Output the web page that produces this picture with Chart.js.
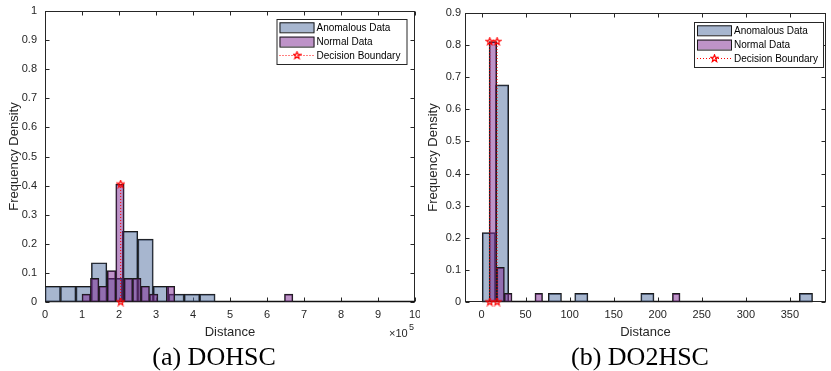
<!DOCTYPE html>
<html>
<head>
<meta charset="utf-8">
<script src="https://cdn.jsdelivr.net/npm/chart.js@4.4.0/dist/chart.umd.min.js"></script>
<style>
  html, body { margin: 0; padding: 0; background: #fff; }
  #wrap { position: relative; width: 831px; height: 371px; overflow: hidden; }
  .pane { position: absolute; top: 0; height: 371px; }
  #paneA { left: 0; width: 420px; }
  #paneB { left: 420px; width: 411px; }
  .cap { position: absolute; top: 344px; width: 200px; text-align: center;
         font: 26px "Liberation Serif", "Times New Roman", serif; line-height: 26px; color: #000; white-space: nowrap; }
</style>
</head>
<body>
<div id="wrap">
  <div class="pane" id="paneA"><canvas id="chartA" width="420" height="371"></canvas></div>
  <div class="pane" id="paneB"><canvas id="chartB" width="411" height="371"></canvas></div>
  <div class="cap" style="left:114px">(a) DOHSC</div>
  <div class="cap" style="left:540px">(b) DO2HSC</div>
</div>
<script>
// (a) DOHSC - distance in units of 1e5, bin centres + probability per bin
var anomBinsA = [0.209, 0.627, 1.045, 1.463, 1.881, 2.299, 2.717, 3.135, 3.553, 3.971, 4.389];
var anomDensA = [0.054, 0.054, 0.054, 0.135, 0.081, 0.243, 0.216, 0.054, 0.027, 0.027, 0.027];
var normBinsA = [1.114, 1.342, 1.570, 1.798, 2.026, 2.254, 2.482, 2.710, 2.938, 3.394, 6.586];
var normDensA = [0.027, 0.081, 0.054, 0.108, 0.405, 0.081, 0.081, 0.054, 0.027, 0.054, 0.027];
var boundA = [2.045];
var boundTopA = 0.405;
var xTicksA = [0, 1, 2, 3, 4, 5, 6, 7, 8, 9, 10];
var yTicksA = [0, 0.1, 0.2, 0.3, 0.4, 0.5, 0.6, 0.7, 0.8, 0.9, 1];

// (b) DO2HSC
var anomBinsB = [8.25, 23.25, 83.25, 113.25, 188.25, 368.25];
var anomDensB = [0.216, 0.676, 0.027, 0.027, 0.027, 0.027];
var normBinsB = [12.9, 21.57, 30.24, 64.92, 220.98];
var normDensB = [0.811, 0.108, 0.027, 0.027, 0.027];
var boundB = [9.3, 17.6];
var boundTopB = 0.811;
var xTicksB = [0, 50, 100, 150, 200, 250, 300, 350];
var yTicksB = [0, 0.1, 0.2, 0.3, 0.4, 0.5, 0.6, 0.7, 0.8, 0.9];

var legendLabels = ["Anomalous Data", "Normal Data", "Decision Boundary"];

var anomColor = "rgba(80,110,160,0.5)";
var normColor = "rgba(125,40,145,0.5)";
var edgeColor = "#1a1a1a";
var axisColor = "#262626";

Chart.defaults.font.family = "'Liberation Sans', Arial, sans-serif";
Chart.defaults.color = axisColor;

function starMarker(size, color) {
  var c = document.createElement("canvas");
  c.width = size; c.height = size;
  var g = c.getContext("2d");
  var r = size / 2 - 0.8, ri = r * 0.42, cx = size / 2, cy = size / 2;
  g.beginPath();
  for (var i = 0; i < 10; i++) {
    var rad = i % 2 ? ri : r;
    var a = -Math.PI / 2 + i * Math.PI / 5;
    g.lineTo(cx + rad * Math.cos(a), cy + rad * Math.sin(a));
  }
  g.closePath();
  g.strokeStyle = color;
  g.lineWidth = 1.2;
  g.stroke();
  return c;
}
var star = starMarker(9, "#ff0000");

function pts(xs, ys) {
  return xs.map(function (x, i) { return {x: x, y: ys[i]}; });
}

// MATLAB-like box, inward ticks, legend
var frame = {
  id: "frame",
  beforeDatasetsDraw: function (chart, args, o) {
    var ctx = chart.ctx, a = chart.chartArea;
    var xs = chart.scales.x, ys = chart.scales.y;
    ctx.save();
    ctx.strokeStyle = axisColor;
    ctx.lineWidth = 1;
    var L = Math.round(a.left) + 0.5, R = Math.round(a.right) - 0.5;
    var T = Math.round(a.top) + 0.5, B = Math.round(a.bottom) - 0.5;
    ctx.strokeRect(L, T, R - L, B - T);
    ctx.beginPath();
    xs.ticks.forEach(function (t) {
      var px = Math.round(xs.getPixelForValue(t.value)) + 0.5;
      ctx.moveTo(px, B); ctx.lineTo(px, B - 4);
      ctx.moveTo(px, T); ctx.lineTo(px, T + 4);
    });
    ys.ticks.forEach(function (t) {
      var py = Math.round(ys.getPixelForValue(t.value)) + 0.5;
      ctx.moveTo(L, py); ctx.lineTo(L + 4, py);
      ctx.moveTo(R, py); ctx.lineTo(R - 4, py);
    });
    ctx.stroke();
    // dark baseline where the empty bins run
    ctx.strokeStyle = "#111";
    ctx.lineWidth = 1.5;
    ctx.beginPath();
    ctx.moveTo(xs.getPixelForValue(o.baseFrom), B);
    ctx.lineTo(xs.getPixelForValue(o.baseTo), B);
    ctx.stroke();
    ctx.restore();
  },
  afterDatasetsDraw: function (chart, args, o) {
    var ctx = chart.ctx, g = o.legend;
    ctx.save();
    ctx.fillStyle = "#fff";
    ctx.fillRect(g.x, g.y, g.w, g.h);
    ctx.strokeStyle = axisColor;
    ctx.lineWidth = 1;
    ctx.strokeRect(g.x + 0.5, g.y + 0.5, g.w, g.h);
    ctx.font = "10px 'Liberation Sans', Arial, sans-serif";
    ctx.textBaseline = "middle";
    ctx.textAlign = "left";
    var sx = g.x + 3, sw = 35, tx = g.x + 40;
    [anomColor, normColor].forEach(function (col, i) {
      var cy = g.y + 8.3 + i * 14.3;
      ctx.fillStyle = col;
      ctx.fillRect(sx, cy - 5, sw, 10);
      ctx.strokeStyle = edgeColor;
      ctx.strokeRect(sx + 0.5, cy - 5 + 0.5, sw - 1, 10);
      ctx.fillStyle = "#000";
      ctx.fillText(legendLabels[i], tx, cy + 1);
    });
    var ly = g.y + 36;
    ctx.strokeStyle = "#ff0000";
    ctx.setLineDash([1, 2]);
    ctx.beginPath();
    ctx.moveTo(sx, ly + 0.5); ctx.lineTo(sx + sw, ly + 0.5);
    ctx.stroke();
    ctx.setLineDash([]);
    ctx.drawImage(star, sx + sw / 2 - 4.5, ly - 4);
    ctx.fillStyle = "#000";
    ctx.fillText(legendLabels[2], tx, ly + 1.5);
    if (o.exponent) {
      ctx.fillStyle = axisColor;
      ctx.font = "11px 'Liberation Sans', Arial, sans-serif";
      ctx.fillText("\u00d710", o.exponent.x, o.exponent.y);
      ctx.font = "9px 'Liberation Sans', Arial, sans-serif";
      ctx.fillText("5", o.exponent.x + 20, o.exponent.y - 6);
    }
    ctx.restore();
  }
};

function noPad(sc) {
  sc.paddingLeft = 0; sc.paddingRight = 0; sc.paddingTop = 0; sc.paddingBottom = 0;
}

function makeChart(id, s) {
  var ticksFrom = function (arr) {
    return function (scale) { scale.ticks = arr.map(function (v) { return {value: v}; }); };
  };
  var datasets = s.bounds.map(function (b) {
    return {
      type: "line", xAxisID: "x", order: 0, clip: false,
      data: [{x: b, y: 0}, {x: b, y: s.boundTop}],
      borderColor: "#ff0000", borderWidth: 1, borderDash: [1, 2],
      pointStyle: star, pointRadius: 4
    };
  });
  datasets.push({
    label: legendLabels[1], xAxisID: "x2", order: 1,
    data: pts(s.normBins, s.normDens),
    backgroundColor: normColor, borderColor: edgeColor, borderWidth: 1, borderSkipped: false,
    barPercentage: 1, categoryPercentage: 1, grouped: false
  });
  datasets.push({
    label: legendLabels[0], xAxisID: "x", order: 2,
    data: pts(s.anomBins, s.anomDens),
    backgroundColor: anomColor, borderColor: edgeColor, borderWidth: 1, borderSkipped: false,
    barPercentage: 1, categoryPercentage: 1, grouped: false
  });
  return new Chart(id, {
    type: "bar",
    data: {datasets: datasets},
    plugins: [frame],
    options: {
      responsive: false,
      animation: false,
      layout: {padding: {left: 0, top: s.top, right: s.right, bottom: 0}},
      plugins: {
        legend: {display: false},
        tooltip: {enabled: false},
        frame: {legend: s.legend, baseFrom: s.baseFrom, baseTo: s.baseTo, exponent: s.exponent}
      },
      scales: {
        x: {
          type: "linear", min: s.xMin, max: s.xMax, offset: false,
          grid: {display: false, drawTicks: false, offset: false}, border: {display: false},
          afterBuildTicks: ticksFrom(s.xTicks),
          afterFit: function (sc) { sc.height = 69; noPad(sc); },
          ticks: {padding: 6, maxRotation: 0, autoSkip: false, font: {size: 11}},
          title: {display: true, text: "Distance", font: {size: 13}, padding: {top: 0, bottom: 31}}
        },
        x2: {
          type: "linear", min: s.xMin, max: s.xMax, display: false, offset: false,
          grid: {offset: false},
          afterBuildTicks: ticksFrom(s.xTicks),
          afterFit: noPad
        },
        y: {
          min: 0, max: s.yMax,
          grid: {display: false, drawTicks: false}, border: {display: false},
          afterBuildTicks: ticksFrom(s.yTicks),
          afterFit: function (sc) { sc.width = 45; noPad(sc); },
          ticks: {padding: s.yPad, font: {size: 11},
                  callback: function (v) { return String(Math.round(v * 10) / 10); }},
          title: {display: true, text: "Frequency Density", font: {size: 13}, padding: {top: s.yTitlePad}}
        }
      }
    }
  });
}

makeChart("chartA", {
  anomBins: anomBinsA, anomDens: anomDensA, normBins: normBinsA, normDens: normDensA,
  bounds: boundA, boundTop: boundTopA, xTicks: xTicksA, yTicks: yTicksA,
  xMin: 0, xMax: 10, yMax: 1, top: 11, right: 4, yPad: 8, yTitlePad: 7,
  baseFrom: 0, baseTo: 10,
  legend: {x: 276.5, y: 19, w: 130, h: 45},
  exponent: {x: 389, y: 334}
});

makeChart("chartB", {
  anomBins: anomBinsB, anomDens: anomDensB, normBins: normBinsB, normDens: normDensB,
  bounds: boundB, boundTop: boundTopB, xTicks: xTicksB, yTicks: yTicksB,
  xMin: -18.8, xMax: 391, yMax: 0.9, top: 13, right: 2, yPad: 4, yTitlePad: 5.5,
  baseFrom: 0.75, baseTo: 375.75,
  legend: {x: 274, y: 22, w: 129, h: 45},
  exponent: null
});
</script>
</body>
</html>
